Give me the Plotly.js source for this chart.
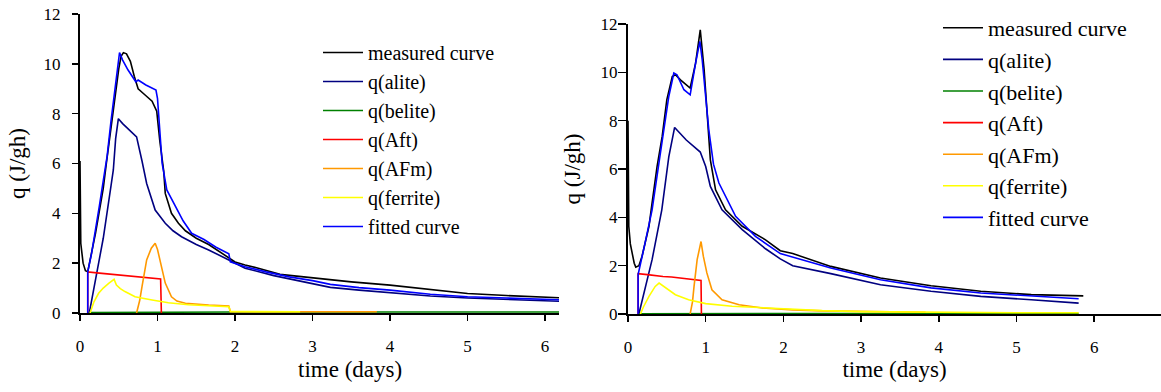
<!DOCTYPE html>
<html>
<head>
<meta charset="utf-8">
<script src="https://cdn.plot.ly/plotly-3.0.1.min.js"></script>
<style>html,body{margin:0;padding:0;background:#fff;}#chart{width:1161px;height:392px;}</style>
</head>
<body>
<div id="chart"></div>
<script>
// ---------- Left chart data (time in days, q in J/gh) ----------
const tL_meas = [0,0.005,0.01,0.04,0.07,0.1,0.15,0.2,0.25,0.3,0.34,0.4,0.45,0.5,0.53,0.56,0.6,0.65,0.7,0.75,0.84,0.93,0.99,1.03,1.08,1.1,1.18,1.27,1.36,1.5,1.66,1.8,1.92,2.0,2.13,2.3,2.58,3.0,3.5,4.0,4.5,5.0,5.5,6.0,6.3];
const qL_meas = [6.1,4.5,2.8,2.0,1.7,1.66,2.4,3.2,4.1,5.0,6.0,7.5,8.7,9.8,10.3,10.45,10.4,10.1,9.5,9.0,8.75,8.5,8.1,6.9,5.7,4.8,4.0,3.6,3.3,3.0,2.75,2.45,2.2,2.05,1.93,1.8,1.55,1.4,1.25,1.12,0.95,0.78,0.7,0.62,0.6];

const tL_alite = [0.12,0.2,0.3,0.4,0.43,0.46,0.495,0.55,0.65,0.73,0.8,0.86,0.97,1.1,1.2,1.31,1.5,1.66,1.92,2.13,2.5,3.0,3.23,3.6,4.0,4.52,5.0,5.5,6.0,6.3];
const qL_alite = [0,1.3,3.0,5.1,5.74,7.0,7.8,7.6,7.3,7.07,6.1,5.2,4.13,3.6,3.3,3.06,2.75,2.53,2.13,1.8,1.5,1.18,1.03,0.92,0.82,0.68,0.6,0.54,0.48,0.46];

const tL_belite = [0.1,1,2,3,4,5,6,6.3];
const qL_belite = [0.02,0.04,0.04,0.04,0.04,0.04,0.04,0.04];

const tL_aft = [0.1,0.1,0.25,0.4,0.5,0.65,0.8,0.9,1.04,1.05];
const qL_aft = [0,1.65,1.6,1.56,1.52,1.48,1.44,1.4,1.37,0];

const tL_afm = [0.73,0.77,0.8,0.86,0.92,0.97,1.0,1.03,1.07,1.1,1.18,1.25,1.36,1.5,1.66,1.8,1.92,1.94,2.5,3.0,3.5,3.83];
const qL_afm = [0,0.5,1.06,2.13,2.6,2.8,2.55,2.13,1.55,1.2,0.65,0.48,0.39,0.35,0.32,0.3,0.28,0.05,0.05,0.05,0.05,0.05];

const tL_ferrite = [0.13,0.18,0.24,0.3,0.37,0.44,0.47,0.52,0.58,0.71,0.93,1.14,1.4,1.66,1.92,1.94,2.4,2.84];
const qL_ferrite = [0,0.45,0.79,1.0,1.19,1.35,1.12,0.98,0.86,0.65,0.52,0.41,0.33,0.29,0.25,0.06,0.05,0.05];

const tL_fit = [0.1,0.1,0.15,0.2,0.25,0.3,0.35,0.4,0.45,0.51,0.55,0.62,0.72,0.75,0.85,0.98,1.0,1.06,1.12,1.23,1.33,1.44,1.6,1.75,1.92,1.94,2.13,2.4,2.7,3.0,3.23,3.6,4.0,4.52,5.0,5.5,6.0,6.3];
const qL_fit = [0,1.65,2.4,3.3,4.3,5.3,6.3,7.7,9.0,10.45,10.15,9.75,9.28,9.35,9.15,8.95,8.6,6.0,4.94,4.27,3.7,3.2,2.95,2.65,2.38,2.05,1.86,1.65,1.45,1.3,1.15,1.02,0.92,0.75,0.65,0.6,0.54,0.52];

// ---------- Right chart data ----------
const tR_meas = [0,0.005,0.01,0.03,0.05,0.08,0.1,0.14,0.18,0.22,0.27,0.31,0.35,0.374,0.44,0.5,0.57,0.61,0.675,0.74,0.8,0.87,0.93,0.98,1.02,1.06,1.127,1.255,1.47,1.77,1.96,2.12,2.61,3.25,3.9,4.54,5.19,5.83,5.86];
const qR_meas = [8.0,6.0,3.63,2.9,2.52,2.1,1.94,2.0,2.38,2.9,3.63,4.6,5.56,6.1,7.35,8.87,9.83,9.9,9.69,9.5,9.35,10.38,11.76,10.1,8.04,6.38,5.14,4.31,3.63,3.07,2.62,2.5,1.97,1.49,1.17,0.94,0.8,0.73,0.75];

const tR_alite = [0.14,0.22,0.31,0.435,0.503,0.525,0.6,0.75,0.93,1.0,1.06,1.21,1.47,1.77,1.96,2.12,2.61,3.25,3.9,4.54,5.19,5.8];
const qR_alite = [0,1.0,2.25,4.31,6.1,6.5,7.72,7.2,6.7,6.1,5.28,4.31,3.49,2.7,2.28,2.0,1.67,1.21,0.94,0.73,0.59,0.45];

const tR_belite = [0.14,1,2,3,4,5,5.8];
const qR_belite = [0.01,0.02,0.02,0.02,0.02,0.02,0.02];

const tR_aft = [0.13,0.13,0.25,0.35,0.45,0.56,0.7,0.82,0.94,0.945];
const qR_aft = [0,1.67,1.63,1.58,1.55,1.53,1.48,1.42,1.39,0];

const tR_afm = [0.8,0.83,0.85,0.89,0.94,0.97,1.015,1.08,1.21,1.43,1.73,2.12,2.5,3.0,3.5,3.83];
const qR_afm = [0,0.5,1.14,2.25,3.0,2.38,1.7,1.0,0.59,0.38,0.25,0.17,0.13,0.1,0.08,0.07];

const tR_ferrite = [0.16,0.2,0.27,0.35,0.4,0.46,0.61,0.78,1.0,1.34,1.73,2.12,2.5,3.0,3.5,4.0,4.5,5.0,5.5,5.8];
const qR_ferrite = [0,0.3,0.73,1.14,1.28,1.14,0.8,0.59,0.43,0.32,0.25,0.18,0.14,0.1,0.08,0.07,0.06,0.05,0.05,0.05];

const tR_fit = [0.13,0.13,0.22,0.31,0.396,0.46,0.525,0.59,0.63,0.72,0.8,0.87,0.925,0.955,1.04,1.1,1.17,1.385,1.64,1.96,2.11,2.61,3.25,3.9,4.54,5.19,5.8];
const qR_fit = [0,1.63,2.94,4.31,6.2,7.6,9.0,9.97,9.9,9.28,9.07,10.38,11.28,10.52,7.62,6.2,5.42,4.04,3.21,2.5,2.36,1.9,1.42,1.08,0.87,0.73,0.63];

// ---------- Series names / colours ----------
const seriesNames = ['measured curve','q(alite)','q(belite)','q(Aft)','q(AFm)','q(ferrite)','fitted curve'];
const seriesColors = ['#000000','#000080','#008000','#ff0000','#ff9900','#ffff00','#0000ff'];

const leftData = [[tL_meas,qL_meas],[tL_alite,qL_alite],[tL_belite,qL_belite],[tL_aft,qL_aft],[tL_afm,qL_afm],[tL_ferrite,qL_ferrite],[tL_fit,qL_fit]];
const rightData = [[tR_meas,qR_meas],[tR_alite,qR_alite],[tR_belite,qR_belite],[tR_aft,qR_aft],[tR_afm,qR_afm],[tR_ferrite,qR_ferrite],[tR_fit,qR_fit]];

const traces = [];
leftData.forEach((d,i)=>{
  traces.push({x:d[0],y:d[1],type:'scatter',mode:'lines',name:seriesNames[i],
    line:{color:seriesColors[i],width:1.6},xaxis:'x',yaxis:'y',legend:'legend'});
});
rightData.forEach((d,i)=>{
  traces.push({x:d[0],y:d[1],type:'scatter',mode:'lines',name:seriesNames[i],
    line:{color:seriesColors[i],width:1.6},xaxis:'x2',yaxis:'y2',legend:'legend2'});
});

const W=1161,H=392;
const FAM = 'Liberation Serif, Times New Roman, serif';
const font = {family:FAM, color:'#000'};
function f(size){ return {family:FAM, color:'#000', size:size}; }
function axCommon(extra){
  return Object.assign({showline:true,linecolor:'#000',linewidth:2,ticks:'outside',ticklen:6,tickwidth:1.5,tickcolor:'#000',
    showgrid:false,zeroline:false,tickfont:f(17),fixedrange:true,dtick:1,tick0:0}, extra);
}

const layout = {
  width:W,height:H,margin:{l:0,r:0,t:0,b:0},paper_bgcolor:'#fff',plot_bgcolor:'rgba(0,0,0,0)',
  font:font,showlegend:true,
  xaxis:axCommon({domain:[80/W,559/W],range:[0,6.18],anchor:'y',ticklabelstandoff:11}),
  yaxis:axCommon({domain:[79/H,378/H],range:[0,12],dtick:2,anchor:'x',ticklabelstandoff:8,
    title:{text:'q (J/gh)',font:f(23),standoff:12}}),
  xaxis2:axCommon({domain:[628/W,1],range:[0,6.86],anchor:'y2',ticklabelstandoff:11,
    title:{text:'time (days)',font:f(23),standoff:4}}),
  yaxis2:axCommon({domain:[78/H,368/H],range:[0,12],dtick:2,anchor:'x2',ticklen:8,ticklabelstandoff:-3,
    title:{text:'q (J/gh)',font:f(23),standoff:14}}),
  legend:{x:318/W,y:1-33/H,xanchor:'left',yanchor:'top',bgcolor:'rgba(0,0,0,0)',borderwidth:0,
    font:f(20),itemwidth:40,tracegroupgap:0},
  legend2:{x:938/W,y:1-7/H,xanchor:'left',yanchor:'top',bgcolor:'rgba(0,0,0,0)',borderwidth:0,
    font:f(22),itemwidth:40,tracegroupgap:0},
  annotations:[{text:'time (days)',xref:'paper',yref:'paper',x:350/W,y:1-369/H,xanchor:'center',yanchor:'middle',
    showarrow:false,font:f(23)}]
};

Plotly.newPlot('chart',traces,layout,{staticPlot:true,displayModeBar:false});
</script>
</body>
</html>
